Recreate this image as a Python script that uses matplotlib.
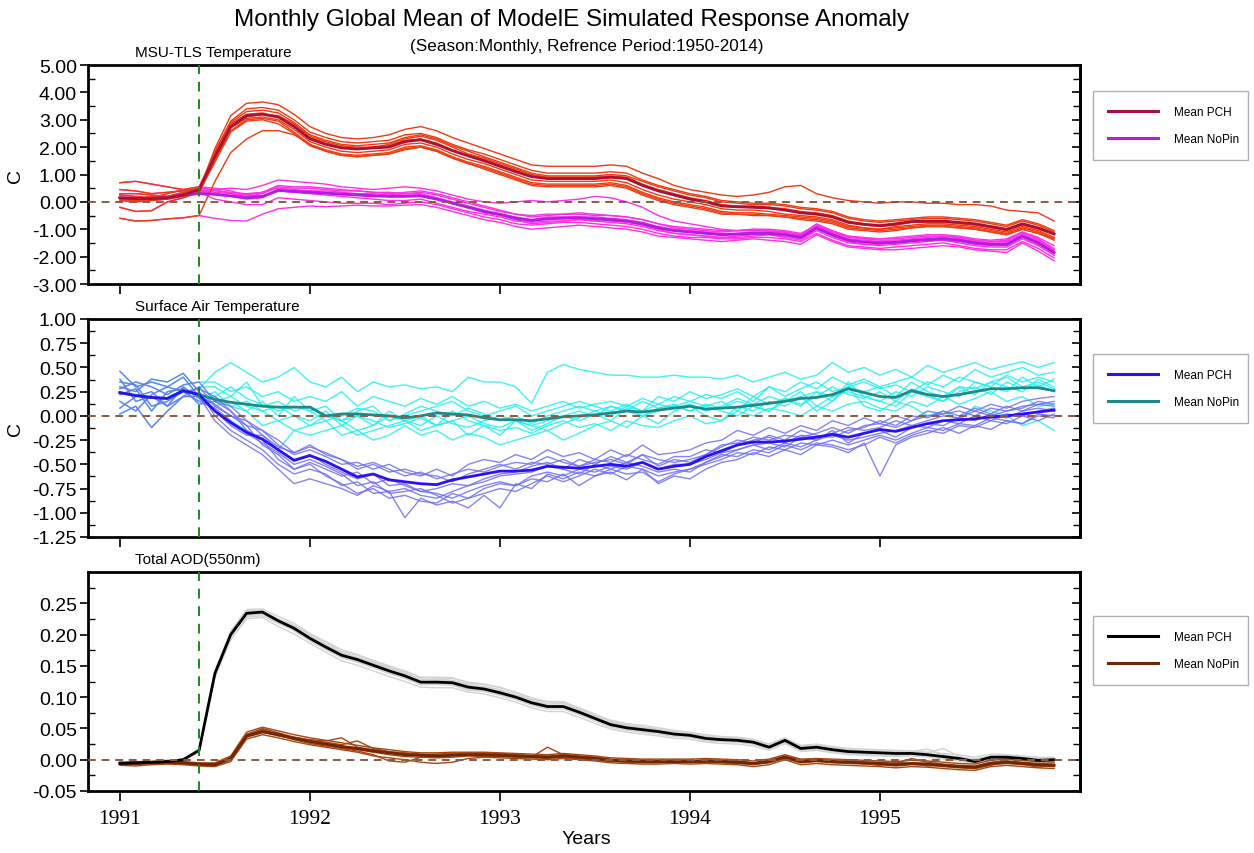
import numpy as np
import matplotlib
matplotlib.use('Agg')
import matplotlib.pyplot as plt
from matplotlib.lines import Line2D
from matplotlib.ticker import MultipleLocator, FormatStrFormatter

plt.rcParams['font.family'] = ['Liberation Sans', 'DejaVu Sans']

months = np.arange(60)
years = 1991 + months / 12.0
eruption = 1991 + 5 / 12.0

# ---- MSU-TLS temperature (C) ----
tls_pch_mean = [0.15, 0.12, 0.12, 0.15, 0.25, 0.45, 1.65, 2.75, 3.15, 3.2, 3.1, 2.75,
                2.3, 2.1, 1.97, 1.93, 1.97, 2.0, 2.2, 2.27, 2.1, 1.87, 1.68, 1.5,
                1.3, 1.1, 0.92, 0.85, 0.85, 0.85, 0.85, 0.9, 0.85, 0.6, 0.4, 0.25,
                0.1, 0.0, -0.15, -0.18, -0.2, -0.22, -0.3, -0.4, -0.45, -0.55, -0.75, -0.82,
                -0.87, -0.8, -0.72, -0.7, -0.7, -0.75, -0.8, -0.9, -1.0, -0.8, -0.95, -1.17]
tls_nopin_mean = [0.15, 0.12, 0.12, 0.15, 0.25, 0.3, 0.28, 0.22, 0.15, 0.2, 0.42, 0.38,
                  0.35, 0.32, 0.28, 0.25, 0.22, 0.2, 0.2, 0.22, 0.1, -0.05, -0.2, -0.35,
                  -0.45, -0.6, -0.68, -0.62, -0.6, -0.58, -0.62, -0.65, -0.7, -0.8, -0.95, -1.05,
                  -1.1, -1.15, -1.2, -1.18, -1.15, -1.15, -1.2, -1.3, -0.95, -1.2, -1.4, -1.47,
                  -1.5, -1.48, -1.42, -1.38, -1.35, -1.4, -1.5, -1.55, -1.55, -1.25, -1.5, -1.85]
tls_pch_members = [
    [0.70, 0.75, 0.65, 0.55, 0.45, 0.40, 1.95, 3.15, 3.6, 3.65, 3.55, 3.2,
     2.75, 2.5, 2.35, 2.3, 2.35, 2.45, 2.65, 2.75, 2.6, 2.35, 2.15, 1.95,
     1.75, 1.55, 1.35, 1.3, 1.3, 1.3, 1.3, 1.35, 1.3, 1.05, 0.85, 0.6,
     0.45, 0.35, 0.25, 0.2, 0.25, 0.35, 0.55, 0.6, 0.3, 0.15, 0.05, 0.0,
     -0.05, 0.0, 0.0, -0.05, -0.05, -0.1, -0.1, -0.15, -0.3, -0.35, -0.4, -0.7],
    [-0.60, -0.70, -0.68, -0.62, -0.58, -0.50, 0.75, 1.8, 2.3, 2.6, 2.6, 2.45,
     2.1, 1.85, 1.7, 1.65, 1.7, 1.75, 1.9, 2.0, 1.85, 1.6, 1.4, 1.2,
     1.0, 0.8, 0.6, 0.55, 0.55, 0.55, 0.55, 0.6, 0.5, 0.25, 0.05, -0.1,
     -0.2, -0.3, -0.45, -0.45, -0.5, -0.5, -0.55, -0.65, -0.7, -0.8, -1.0, -1.05,
     -1.1, -1.05, -0.95, -0.9, -0.9, -0.95, -1.0, -1.1, -1.2, -1.0, -1.15, -1.35],
    [-0.20, -0.35, -0.32, 0.00, 0.15, 0.35, 1.55, 2.6, 3.0, 3.05, 2.95, 2.55,
     2.1, 1.9, 1.75, 1.7, 1.75, 1.8, 2.0, 2.05, 1.9, 1.65, 1.45, 1.3,
     1.1, 0.9, 0.7, 0.65, 0.65, 0.65, 0.65, 0.7, 0.6, 0.35, 0.15, 0.0,
     -0.1, -0.2, -0.35, -0.4, -0.4, -0.45, -0.5, -0.55, -0.6, -0.7, -0.9, -0.95,
     -1.0, -0.95, -0.9, -0.85, -0.85, -0.9, -0.95, -1.05, -1.15, -0.95, -1.1, -1.3],
    [0.45, 0.40, 0.30, 0.35, 0.40, 0.50, 1.85, 2.95, 3.4, 3.45, 3.35, 3.0,
     2.55, 2.35, 2.2, 2.15, 2.2, 2.25, 2.45, 2.5, 2.35, 2.1, 1.9, 1.75,
     1.55, 1.35, 1.15, 1.05, 1.05, 1.05, 1.05, 1.1, 1.05, 0.8, 0.6, 0.45,
     0.3, 0.2, 0.05, 0.0, -0.05, -0.05, -0.1, -0.2, -0.25, -0.35, -0.55, -0.65,
     -0.7, -0.65, -0.6, -0.55, -0.55, -0.6, -0.65, -0.75, -0.85, -0.65, -0.8, -1.05],
    [0.30, 0.30, 0.25, 0.20, 0.35, 0.45, 1.7, 2.85, 3.2, 3.25, 3.1, 2.8,
     2.35, 2.15, 2.0, 1.95, 2.0, 2.05, 2.25, 2.3, 2.15, 1.9, 1.7, 1.55,
     1.35, 1.15, 0.95, 0.9, 0.9, 0.9, 0.9, 0.95, 0.9, 0.65, 0.45, 0.3,
     0.15, 0.05, -0.1, -0.15, -0.15, -0.2, -0.25, -0.35, -0.4, -0.5, -0.7, -0.8,
     -0.85, -0.8, -0.75, -0.7, -0.7, -0.75, -0.8, -0.9, -1.0, -0.8, -0.95, -1.15],
    [0.25, 0.20, 0.15, 0.30, 0.45, 0.55, 1.75, 2.7, 3.05, 3.1, 3.0, 2.65,
     2.2, 2.0, 1.85, 1.8, 1.85, 1.9, 2.1, 2.15, 2.0, 1.75, 1.55, 1.4,
     1.2, 1.0, 0.8, 0.75, 0.75, 0.75, 0.75, 0.8, 0.7, 0.45, 0.25, 0.1,
     0.0, -0.1, -0.25, -0.3, -0.3, -0.35, -0.45, -0.5, -0.55, -0.65, -0.85, -0.95,
     -1.0, -0.9, -0.85, -0.8, -0.8, -0.85, -0.9, -1.0, -1.1, -0.9, -1.05, -1.3],
    [0.10, 0.05, 0.10, 0.20, 0.30, 0.40, 1.8, 2.9, 3.3, 3.35, 3.25, 2.9,
     2.45, 2.25, 2.1, 2.05, 2.1, 2.15, 2.35, 2.45, 2.3, 2.05, 1.85, 1.65,
     1.45, 1.25, 1.05, 0.95, 0.95, 0.95, 0.95, 1.0, 0.95, 0.75, 0.55, 0.4,
     0.25, 0.15, 0.0, -0.05, -0.1, -0.1, -0.15, -0.25, -0.3, -0.4, -0.6, -0.7,
     -0.75, -0.7, -0.65, -0.6, -0.6, -0.65, -0.7, -0.8, -0.9, -0.7, -0.85, -1.1],
    [0.05, 0.00, 0.05, 0.10, 0.20, 0.35, 1.45, 2.55, 2.95, 3.0, 2.85, 2.5,
     2.05, 1.85, 1.7, 1.65, 1.7, 1.75, 1.95, 2.0, 1.85, 1.6, 1.4, 1.25,
     1.05, 0.85, 0.65, 0.6, 0.6, 0.6, 0.6, 0.65, 0.55, 0.3, 0.1, -0.05,
     -0.15, -0.25, -0.4, -0.45, -0.45, -0.5, -0.55, -0.6, -0.65, -0.75, -0.95, -1.0,
     -1.05, -1.0, -0.95, -0.9, -0.9, -0.95, -1.0, -1.1, -1.2, -1.0, -1.15, -1.4],
    [0.15, 0.10, 0.20, 0.15, 0.25, 0.45, 1.6, 2.7, 3.1, 3.2, 3.15, 2.85,
     2.4, 2.2, 2.05, 2.0, 2.0, 2.1, 2.3, 2.4, 2.25, 2.0, 1.75, 1.6,
     1.4, 1.2, 1.0, 0.9, 0.9, 0.9, 0.9, 0.9, 0.85, 0.6, 0.4, 0.25,
     0.1, 0.0, -0.15, -0.2, -0.2, -0.25, -0.3, -0.4, -0.45, -0.55, -0.75, -0.85,
     -0.9, -0.85, -0.75, -0.75, -0.75, -0.8, -0.85, -0.95, -1.05, -0.85, -1.0, -1.2],
]
tls_nopin_members = [
    [0.70, 0.75, 0.65, 0.55, 0.45, 0.40, 0.45, 0.50, 0.45, 0.60, 0.80, 0.75,
     0.70, 0.65, 0.55, 0.50, 0.45, 0.50, 0.55, 0.50, 0.40, 0.25, 0.10, 0.00,
     -0.05, 0.00, 0.05, 0.00, 0.05, 0.10, 0.20, 0.15, 0.00, -0.20, -0.50, -0.70,
     -0.80, -0.90, -1.00, -1.05, -1.00, -1.00, -1.05, -1.15, -0.85, -1.10, -1.25, -1.30,
     -1.35, -1.30, -1.25, -1.20, -1.20, -1.25, -1.35, -1.40, -1.35, -1.10, -1.30, -1.60],
    [-0.60, -0.70, -0.68, -0.62, -0.58, -0.50, -0.60, -0.68, -0.70, -0.45, -0.25, -0.20,
     -0.15, -0.18, -0.15, -0.12, -0.15, -0.15, -0.12, -0.10, -0.20, -0.35, -0.50, -0.65,
     -0.75, -0.90, -1.00, -0.95, -0.90, -0.85, -0.90, -0.95, -1.00, -1.10, -1.25, -1.30,
     -1.35, -1.40, -1.45, -1.40, -1.35, -1.40, -1.45, -1.55, -1.20, -1.45, -1.65, -1.70,
     -1.75, -1.75, -1.70, -1.65, -1.60, -1.65, -1.75, -1.80, -1.85, -1.50, -1.80, -2.15],
    [-0.20, -0.35, -0.32, 0.00, 0.15, 0.35, 0.30, 0.20, 0.10, 0.15, 0.40, 0.35,
     0.30, 0.25, 0.20, 0.15, 0.10, 0.05, 0.05, 0.10, -0.05, -0.20, -0.35, -0.45,
     -0.55, -0.70, -0.75, -0.70, -0.70, -0.65, -0.70, -0.75, -0.80, -0.90, -1.05, -1.15,
     -1.20, -1.25, -1.30, -1.30, -1.25, -1.20, -1.30, -1.40, -1.05, -1.30, -1.50, -1.55,
     -1.60, -1.55, -1.50, -1.45, -1.40, -1.50, -1.60, -1.65, -1.65, -1.35, -1.60, -1.95],
    [0.45, 0.40, 0.30, 0.35, 0.40, 0.50, 0.45, 0.30, 0.20, 0.30, 0.55, 0.50,
     0.50, 0.45, 0.40, 0.40, 0.35, 0.35, 0.30, 0.35, 0.25, 0.10, -0.05, -0.20,
     -0.35, -0.45, -0.55, -0.50, -0.45, -0.45, -0.50, -0.50, -0.55, -0.65, -0.80, -0.90,
     -0.95, -1.00, -1.05, -1.05, -1.00, -1.05, -1.10, -1.20, -0.80, -1.05, -1.25, -1.35,
     -1.35, -1.35, -1.30, -1.25, -1.25, -1.30, -1.40, -1.45, -1.40, -1.10, -1.35, -1.70],
    [0.30, 0.30, 0.25, 0.20, 0.35, 0.45, 0.40, 0.35, 0.30, 0.35, 0.50, 0.45,
     0.40, 0.40, 0.35, 0.30, 0.30, 0.25, 0.30, 0.30, 0.15, 0.00, -0.15, -0.30,
     -0.45, -0.60, -0.70, -0.60, -0.55, -0.55, -0.60, -0.65, -0.70, -0.80, -0.95, -1.05,
     -1.10, -1.15, -1.20, -1.15, -1.15, -1.10, -1.15, -1.25, -0.95, -1.20, -1.40, -1.45,
     -1.50, -1.45, -1.40, -1.35, -1.35, -1.40, -1.45, -1.55, -1.55, -1.25, -1.45, -1.80],
    [0.25, 0.20, 0.15, 0.30, 0.45, 0.55, 0.50, 0.40, 0.25, 0.20, 0.45, 0.40,
     0.35, 0.30, 0.30, 0.30, 0.25, 0.20, 0.20, 0.25, 0.15, -0.05, -0.20, -0.40,
     -0.50, -0.65, -0.80, -0.75, -0.70, -0.65, -0.70, -0.70, -0.75, -0.85, -1.00, -1.15,
     -1.20, -1.25, -1.30, -1.25, -1.20, -1.20, -1.25, -1.35, -1.00, -1.25, -1.45, -1.55,
     -1.55, -1.50, -1.45, -1.40, -1.40, -1.45, -1.55, -1.60, -1.60, -1.30, -1.55, -1.90],
    [0.10, 0.05, 0.10, 0.20, 0.30, 0.40, 0.35, 0.30, 0.25, 0.35, 0.60, 0.55,
     0.55, 0.50, 0.45, 0.40, 0.35, 0.30, 0.35, 0.40, 0.30, 0.15, 0.00, -0.15,
     -0.30, -0.45, -0.50, -0.45, -0.45, -0.40, -0.45, -0.50, -0.55, -0.65, -0.80, -0.95,
     -1.00, -1.05, -1.10, -1.05, -1.05, -1.05, -1.10, -1.20, -0.90, -1.10, -1.30, -1.35,
     -1.40, -1.40, -1.35, -1.30, -1.25, -1.30, -1.40, -1.45, -1.45, -1.15, -1.40, -1.75],
    [0.05, 0.00, 0.05, 0.10, 0.20, 0.35, 0.10, 0.00, -0.10, -0.10, 0.15, 0.10,
     0.05, 0.00, -0.05, -0.05, -0.05, -0.10, -0.05, 0.00, -0.10, -0.25, -0.40, -0.55,
     -0.65, -0.80, -0.85, -0.80, -0.75, -0.75, -0.80, -0.85, -0.90, -1.00, -1.15, -1.25,
     -1.30, -1.30, -1.35, -1.35, -1.30, -1.30, -1.35, -1.45, -1.15, -1.40, -1.60, -1.65,
     -1.70, -1.65, -1.60, -1.55, -1.50, -1.60, -1.70, -1.75, -1.75, -1.45, -1.70, -2.05],
    [0.15, 0.10, 0.20, 0.15, 0.25, 0.45, 0.25, 0.20, 0.15, 0.20, 0.40, 0.40,
     0.40, 0.35, 0.30, 0.25, 0.20, 0.25, 0.25, 0.25, 0.10, -0.05, -0.20, -0.35,
     -0.45, -0.55, -0.65, -0.55, -0.55, -0.55, -0.55, -0.60, -0.65, -0.75, -0.90, -1.00,
     -1.05, -1.10, -1.15, -1.15, -1.10, -1.10, -1.15, -1.25, -0.95, -1.15, -1.35, -1.40,
     -1.45, -1.45, -1.40, -1.35, -1.30, -1.35, -1.45, -1.50, -1.50, -1.20, -1.45, -1.80],
]

# ---- surface air temperature (C) ----
sat_pch_mean = [0.24, 0.21, 0.19, 0.18, 0.26, 0.22, 0.05, -0.07, -0.17, -0.24, -0.35, -0.46,
                -0.41, -0.47, -0.55, -0.63, -0.6, -0.66, -0.68, -0.7, -0.71, -0.66, -0.63, -0.6,
                -0.57, -0.57, -0.56, -0.52, -0.53, -0.54, -0.52, -0.5, -0.52, -0.48, -0.55, -0.52,
                -0.5, -0.42, -0.36, -0.3, -0.27, -0.27, -0.26, -0.24, -0.22, -0.19, -0.22, -0.18,
                -0.14, -0.16, -0.12, -0.08, -0.05, -0.04, -0.03, -0.01, 0.0, 0.02, 0.04, 0.06]
sat_nopin_mean = [0.24, 0.21, 0.19, 0.18, 0.26, 0.22, 0.17, 0.14, 0.12, 0.10, 0.09, 0.09,
                  0.09, 0.00, 0.02, 0.02, 0.01, 0.00, -0.02, 0.00, 0.03, 0.02, 0.01, -0.02,
                  -0.04, -0.04, -0.05, -0.03, -0.01, 0.00, 0.01, 0.03, 0.05, 0.04, 0.06, 0.08,
                  0.10, 0.07, 0.08, 0.09, 0.11, 0.13, 0.15, 0.18, 0.19, 0.22, 0.28, 0.24,
                  0.20, 0.19, 0.26, 0.22, 0.20, 0.22, 0.25, 0.28, 0.28, 0.29, 0.29, 0.26]
sat_pch_members = [
    [0.46, 0.30, 0.35, 0.30, 0.25, 0.28, 0.20, 0.05, -0.10, -0.30, -0.40, -0.55,
     -0.50, -0.62, -0.70, -0.80, -0.75, -0.85, -0.82, -0.88, -0.90, -0.80, -0.85, -0.75,
     -0.70, -0.72, -0.65, -0.68, -0.60, -0.72, -0.62, -0.58, -0.66, -0.55, -0.70, -0.62,
     -0.65, -0.55, -0.48, -0.45, -0.38, -0.42, -0.35, -0.40, -0.30, -0.32, -0.38, -0.28,
     -0.62, -0.30, -0.22, -0.18, -0.12, -0.18, -0.10, -0.14, -0.05, -0.08, 0.00, -0.02],
    [0.02, 0.10, -0.12, 0.05, 0.20, 0.30, 0.10, 0.00, -0.05, -0.15, -0.30, -0.40,
     -0.35, -0.42, -0.50, -0.48, -0.55, -0.50, -0.58, -0.62, -0.55, -0.62, -0.50, -0.45,
     -0.48, -0.40, -0.45, -0.35, -0.42, -0.38, -0.45, -0.35, -0.42, -0.30, -0.40, -0.38,
     -0.35, -0.28, -0.25, -0.15, -0.20, -0.12, -0.18, -0.10, -0.15, -0.05, -0.10, -0.02,
     -0.08, 0.00, -0.05, 0.05, 0.02, 0.10, 0.05, 0.12, 0.08, 0.15, 0.18, 0.20],
    [0.30, 0.25, 0.38, 0.35, 0.44, 0.25, 0.00, -0.15, -0.25, -0.35, -0.50, -0.60,
     -0.55, -0.60, -0.72, -0.68, -0.80, -0.78, -1.05, -0.85, -0.92, -0.88, -0.95, -0.82,
     -0.95, -0.70, -0.75, -0.60, -0.65, -0.58, -0.62, -0.55, -0.60, -0.58, -0.68, -0.60,
     -0.55, -0.48, -0.40, -0.42, -0.35, -0.38, -0.30, -0.35, -0.28, -0.30, -0.35, -0.30,
     -0.22, -0.28, -0.20, -0.15, -0.18, -0.10, -0.12, -0.05, -0.08, 0.00, -0.05, 0.02],
    [0.38, 0.15, 0.20, 0.10, 0.30, 0.18, 0.05, -0.10, -0.20, -0.20, -0.32, -0.38,
     -0.30, -0.40, -0.45, -0.55, -0.50, -0.58, -0.55, -0.60, -0.62, -0.68, -0.60, -0.55,
     -0.50, -0.55, -0.48, -0.50, -0.45, -0.52, -0.48, -0.45, -0.50, -0.40, -0.45, -0.48,
     -0.45, -0.40, -0.32, -0.25, -0.28, -0.20, -0.25, -0.15, -0.20, -0.22, -0.15, -0.12,
     -0.05, -0.10, 0.00, -0.02, 0.05, 0.00, 0.08, 0.02, 0.10, 0.05, 0.12, 0.10],
    [0.22, 0.28, 0.05, 0.25, 0.28, 0.12, 0.15, 0.05, -0.15, -0.25, -0.45, -0.55,
     -0.48, -0.55, -0.62, -0.58, -0.70, -0.65, -0.72, -0.78, -0.80, -0.85, -0.78, -0.72,
     -0.68, -0.72, -0.62, -0.58, -0.62, -0.55, -0.58, -0.52, -0.55, -0.48, -0.55, -0.50,
     -0.50, -0.45, -0.38, -0.35, -0.30, -0.28, -0.32, -0.22, -0.25, -0.15, -0.28, -0.18,
     -0.15, -0.22, -0.12, -0.08, -0.10, -0.02, -0.05, 0.02, -0.02, 0.05, 0.08, 0.05],
    [0.08, 0.20, 0.25, 0.10, 0.20, 0.20, -0.05, -0.20, -0.30, -0.40, -0.55, -0.70,
     -0.65, -0.70, -0.75, -0.82, -0.72, -0.78, -0.75, -0.82, -0.85, -0.78, -0.72, -0.68,
     -0.62, -0.60, -0.58, -0.52, -0.55, -0.60, -0.50, -0.55, -0.48, -0.52, -0.58, -0.55,
     -0.58, -0.48, -0.42, -0.35, -0.30, -0.35, -0.28, -0.32, -0.25, -0.20, -0.25, -0.22,
     -0.18, -0.15, -0.10, -0.12, -0.05, -0.08, 0.00, -0.05, 0.02, 0.00, 0.05, 0.08],
    [0.28, 0.35, 0.30, 0.22, 0.32, 0.35, 0.15, 0.10, -0.05, -0.20, -0.35, -0.45,
     -0.40, -0.50, -0.58, -0.65, -0.60, -0.72, -0.70, -0.78, -0.75, -0.70, -0.72, -0.65,
     -0.60, -0.58, -0.52, -0.48, -0.55, -0.45, -0.50, -0.42, -0.48, -0.40, -0.52, -0.45,
     -0.48, -0.40, -0.30, -0.28, -0.22, -0.25, -0.20, -0.22, -0.18, -0.12, -0.18, -0.10,
     -0.08, -0.12, -0.05, 0.00, 0.02, 0.05, 0.00, 0.08, 0.05, 0.10, 0.12, 0.15],
    [0.35, 0.32, 0.10, 0.15, 0.25, 0.15, 0.08, -0.05, -0.18, -0.28, -0.38, -0.50,
     -0.45, -0.52, -0.60, -0.72, -0.68, -0.80, -0.78, -0.75, -0.82, -0.90, -0.85, -0.80,
     -0.75, -0.78, -0.70, -0.62, -0.68, -0.62, -0.55, -0.60, -0.52, -0.55, -0.62, -0.58,
     -0.55, -0.50, -0.45, -0.38, -0.40, -0.32, -0.35, -0.28, -0.30, -0.25, -0.30, -0.25,
     -0.20, -0.25, -0.18, -0.12, -0.15, -0.08, -0.10, -0.02, -0.05, -0.08, 0.02, 0.00],
    [0.15, 0.05, 0.22, 0.30, 0.40, 0.20, 0.12, 0.00, -0.10, -0.15, -0.25, -0.38,
     -0.32, -0.38, -0.45, -0.52, -0.48, -0.55, -0.62, -0.58, -0.65, -0.60, -0.55, -0.58,
     -0.52, -0.48, -0.50, -0.42, -0.48, -0.52, -0.45, -0.48, -0.40, -0.45, -0.50, -0.42,
     -0.42, -0.35, -0.38, -0.30, -0.25, -0.22, -0.28, -0.20, -0.22, -0.18, -0.12, -0.15,
     -0.12, -0.05, -0.10, -0.05, 0.00, -0.02, 0.05, 0.00, 0.05, 0.08, 0.15, 0.12],
]
sat_nopin_members = [
    [0.46, 0.30, 0.35, 0.30, 0.25, 0.28, 0.45, 0.55, 0.45, 0.35, 0.40, 0.50,
     0.35, 0.30, 0.40, 0.25, 0.35, 0.30, 0.32, 0.28, 0.30, 0.25, 0.40, 0.35,
     0.35, 0.30, 0.13, 0.45, 0.53, 0.48, 0.45, 0.42, 0.42, 0.40, 0.40, 0.42,
     0.40, 0.40, 0.38, 0.42, 0.35, 0.40, 0.45, 0.38, 0.42, 0.55, 0.45, 0.50,
     0.42, 0.48, 0.40, 0.52, 0.45, 0.50, 0.55, 0.48, 0.52, 0.56, 0.50, 0.55],
    [0.02, 0.10, -0.12, 0.05, 0.20, 0.30, 0.30, 0.20, 0.35, 0.10, 0.15, 0.05,
     0.10, 0.00, -0.05, 0.05, 0.10, -0.05, 0.00, 0.05, 0.10, 0.15, 0.05, 0.00,
     0.05, 0.10, 0.00, 0.05, 0.10, 0.15, 0.10, 0.05, 0.12, 0.05, 0.20, 0.15,
     0.25, 0.18, 0.22, 0.28, 0.20, 0.30, 0.25, 0.35, 0.28, 0.40, 0.32, 0.38,
     0.30, 0.35, 0.40, 0.32, 0.42, 0.35, 0.48, 0.40, 0.45, 0.50, 0.42, 0.45],
    [0.30, 0.25, 0.38, 0.35, 0.44, 0.25, 0.10, 0.15, 0.05, -0.10, -0.05, -0.15,
     -0.20, -0.15, -0.10, -0.20, -0.15, -0.10, -0.05, -0.15, -0.10, -0.05, -0.20, -0.10,
     -0.15, -0.12, -0.18, -0.10, -0.05, -0.12, -0.08, -0.15, -0.05, -0.10, -0.12, -0.05,
     0.00, -0.08, -0.05, 0.05, 0.00, 0.08, 0.05, 0.00, 0.10, 0.05, 0.12, 0.15,
     0.08, 0.05, 0.15, 0.10, 0.20, 0.12, 0.18, 0.25, 0.15, 0.20, 0.10, 0.12],
    [0.38, 0.15, 0.20, 0.10, 0.30, 0.18, 0.25, 0.10, 0.05, 0.15, 0.00, 0.20,
     0.05, 0.10, -0.05, 0.00, -0.10, 0.05, -0.05, 0.00, -0.10, 0.05, -0.05, -0.10,
     -0.20, -0.05, -0.10, -0.15, -0.08, -0.02, 0.05, 0.10, 0.05, 0.15, 0.08, 0.12,
     0.05, 0.10, 0.15, 0.05, 0.20, 0.12, 0.18, 0.10, 0.25, 0.15, 0.35, 0.20,
     0.15, 0.10, 0.25, 0.20, 0.15, 0.30, 0.22, 0.35, 0.30, 0.25, 0.38, 0.30],
    [0.22, 0.28, 0.05, 0.25, 0.28, 0.12, 0.15, 0.20, 0.10, 0.05, -0.05, 0.00,
     -0.10, -0.05, -0.20, -0.15, -0.25, -0.20, -0.10, -0.20, -0.15, -0.25, -0.18, -0.22,
     -0.30, -0.25, -0.20, -0.15, -0.25, -0.18, -0.10, -0.05, -0.12, 0.00, -0.08, 0.05,
     0.10, 0.00, -0.05, 0.10, 0.05, 0.15, 0.10, 0.20, 0.05, 0.15, 0.30, 0.10,
     0.05, 0.15, 0.10, 0.00, 0.05, -0.05, 0.10, 0.05, 0.00, -0.10, -0.05, -0.15],
    [0.08, 0.20, 0.25, 0.10, 0.20, 0.20, 0.05, -0.05, -0.15, -0.25, -0.35, -0.15,
     -0.10, 0.00, -0.05, -0.15, -0.10, 0.00, -0.05, -0.10, 0.00, -0.08, -0.12, -0.05,
     0.00, -0.05, -0.10, -0.05, 0.00, 0.05, 0.00, 0.10, 0.05, 0.00, 0.08, 0.10,
     0.15, 0.10, 0.05, 0.00, 0.10, 0.05, 0.15, 0.20, 0.25, 0.20, 0.30, 0.25,
     0.30, 0.20, 0.35, 0.25, 0.20, 0.30, 0.28, 0.35, 0.40, 0.30, 0.35, 0.28],
    [0.28, 0.35, 0.30, 0.22, 0.32, 0.35, 0.35, 0.25, 0.30, 0.20, 0.25, 0.15,
     0.20, 0.15, 0.25, 0.10, 0.20, 0.15, 0.10, 0.18, 0.12, 0.20, 0.10, 0.15,
     0.08, 0.12, 0.05, 0.10, 0.15, 0.08, 0.12, 0.15, 0.10, 0.18, 0.12, 0.20,
     0.15, 0.22, 0.18, 0.25, 0.15, 0.30, 0.20, 0.28, 0.35, 0.25, 0.30, 0.35,
     0.28, 0.32, 0.25, 0.35, 0.30, 0.40, 0.35, 0.30, 0.42, 0.35, 0.40, 0.35],
    [0.35, 0.32, 0.10, 0.15, 0.25, 0.15, 0.20, 0.10, 0.15, 0.05, 0.10, 0.00,
     -0.05, 0.05, -0.10, 0.00, -0.05, -0.12, -0.08, -0.02, -0.10, -0.05, 0.00, -0.08,
     -0.12, -0.05, -0.15, -0.08, 0.00, -0.05, 0.02, -0.05, 0.08, 0.00, 0.05, 0.10,
     0.05, 0.12, 0.08, 0.15, 0.10, 0.05, 0.18, 0.12, 0.20, 0.30, 0.22, 0.18,
     0.25, 0.15, 0.28, 0.22, 0.15, 0.25, 0.30, 0.22, 0.35, 0.28, 0.32, 0.25],
    [0.15, 0.05, 0.22, 0.30, 0.40, 0.20, 0.20, 0.30, 0.18, 0.12, 0.05, 0.10,
     0.05, -0.05, 0.00, 0.08, 0.05, -0.05, 0.02, 0.10, 0.05, 0.00, 0.08, 0.02,
     -0.05, 0.00, -0.08, 0.00, 0.05, 0.10, 0.05, 0.00, 0.10, 0.05, 0.12, 0.08,
     0.12, 0.05, 0.10, 0.18, 0.12, 0.20, 0.15, 0.25, 0.10, 0.20, 0.25, 0.20,
     0.15, 0.25, 0.20, 0.30, 0.25, 0.20, 0.35, 0.30, 0.25, 0.40, 0.30, 0.38],
]

# ---- total AOD at 550nm ----
aod_pch_mean = [-0.006, -0.005, -0.004, -0.003, 0.000, 0.015, 0.138, 0.200, 0.234, 0.236, 0.222, 0.210,
                0.194, 0.180, 0.167, 0.160, 0.151, 0.142, 0.134, 0.124, 0.124, 0.123, 0.116, 0.113,
                0.107, 0.100, 0.091, 0.085, 0.085, 0.076, 0.066, 0.056, 0.051, 0.048, 0.045, 0.041,
                0.039, 0.034, 0.032, 0.031, 0.028, 0.020, 0.031, 0.018, 0.020, 0.016, 0.013, 0.012,
                0.011, 0.010, 0.010, 0.008, 0.005, 0.002, -0.003, 0.004, 0.004, 0.002, -0.001, 0.000]
aod_nopin_mean = [-0.006, -0.006, -0.005, -0.004, -0.005, -0.007, -0.008, 0.002, 0.038, 0.045, 0.040, 0.034,
                  0.029, 0.025, 0.021, 0.018, 0.014, 0.011, 0.008, 0.007, 0.006, 0.007, 0.008, 0.008,
                  0.007, 0.006, 0.005, 0.004, 0.006, 0.004, 0.002, -0.001, -0.002, -0.003, -0.003, -0.003,
                  -0.003, -0.002, -0.003, -0.004, -0.006, -0.003, 0.004, -0.003, -0.001, -0.003, -0.004, -0.005,
                  -0.006, -0.008, -0.006, -0.007, -0.009, -0.011, -0.012, -0.006, -0.004, -0.006, -0.008, -0.009]
aod_pch_members = [
    [-0.008, -0.006, -0.003, -0.002, 0.001, 0.017, 0.142, 0.205, 0.238, 0.238, 0.225, 0.214,
     0.198, 0.184, 0.171, 0.163, 0.155, 0.147, 0.139, 0.128, 0.129, 0.127, 0.121, 0.117,
     0.112, 0.104, 0.095, 0.089, 0.090, 0.080, 0.070, 0.060, 0.055, 0.052, 0.049, 0.045,
     0.042, 0.038, 0.035, 0.034, 0.031, 0.024, 0.034, 0.022, 0.023, 0.019, 0.016, 0.015,
     0.014, 0.013, 0.012, 0.011, 0.018, 0.005, 0.001, 0.006, 0.007, 0.004, 0.002, 0.003],
    [-0.004, -0.006, -0.005, -0.003, 0.000, 0.013, 0.134, 0.196, 0.230, 0.233, 0.219, 0.206,
     0.190, 0.176, 0.163, 0.156, 0.147, 0.138, 0.130, 0.120, 0.120, 0.119, 0.111, 0.109,
     0.103, 0.096, 0.087, 0.081, 0.081, 0.072, 0.062, 0.052, 0.047, 0.044, 0.041, 0.037,
     0.036, 0.030, 0.029, 0.028, 0.025, 0.017, 0.028, 0.015, 0.017, 0.013, 0.010, 0.009,
     0.008, 0.007, 0.008, 0.006, 0.003, 0.000, -0.005, 0.002, 0.002, 0.000, -0.003, -0.002],
    [-0.006, -0.004, -0.004, -0.002, 0.002, 0.016, 0.140, 0.198, 0.228, 0.230, 0.218, 0.208,
     0.196, 0.183, 0.170, 0.164, 0.154, 0.146, 0.138, 0.129, 0.127, 0.126, 0.119, 0.115,
     0.110, 0.103, 0.094, 0.087, 0.087, 0.078, 0.068, 0.058, 0.054, 0.050, 0.047, 0.043,
     0.041, 0.036, 0.033, 0.032, 0.030, 0.022, 0.032, 0.020, 0.022, 0.018, 0.015, 0.013,
     0.012, 0.011, 0.011, 0.009, 0.006, 0.003, -0.002, 0.006, 0.005, 0.003, 0.000, 0.001],
    [-0.007, -0.005, -0.004, -0.004, -0.001, 0.014, 0.136, 0.201, 0.236, 0.237, 0.224, 0.211,
     0.193, 0.178, 0.164, 0.157, 0.148, 0.139, 0.131, 0.121, 0.122, 0.120, 0.113, 0.110,
     0.104, 0.098, 0.089, 0.083, 0.083, 0.074, 0.064, 0.054, 0.049, 0.046, 0.043, 0.039,
     0.037, 0.032, 0.030, 0.029, 0.026, 0.018, 0.029, 0.016, 0.018, 0.014, 0.011, 0.010,
     0.009, 0.008, 0.009, 0.007, 0.004, 0.001, -0.004, 0.003, 0.003, 0.001, -0.002, -0.001],
    [-0.005, -0.004, -0.003, -0.003, 0.000, 0.015, 0.139, 0.203, 0.235, 0.236, 0.223, 0.211,
     0.195, 0.181, 0.168, 0.161, 0.152, 0.143, 0.135, 0.125, 0.125, 0.124, 0.117, 0.114,
     0.108, 0.101, 0.092, 0.086, 0.086, 0.077, 0.067, 0.057, 0.052, 0.049, 0.046, 0.042,
     0.040, 0.035, 0.033, 0.032, 0.029, 0.021, 0.030, 0.019, 0.021, 0.017, 0.014, 0.013,
     0.012, 0.011, 0.011, 0.009, 0.006, 0.003, -0.002, 0.005, 0.005, 0.003, 0.000, 0.001],
    [-0.006, -0.004, -0.005, -0.003, 0.001, 0.016, 0.140, 0.206, 0.240, 0.241, 0.229, 0.218,
     0.202, 0.189, 0.176, 0.168, 0.159, 0.150, 0.142, 0.132, 0.131, 0.130, 0.124, 0.121,
     0.115, 0.108, 0.099, 0.093, 0.093, 0.083, 0.073, 0.063, 0.058, 0.055, 0.051, 0.047,
     0.044, 0.040, 0.037, 0.036, 0.033, 0.025, 0.035, 0.023, 0.025, 0.021, 0.018, 0.017,
     0.016, 0.015, 0.014, 0.012, 0.010, 0.008, 0.004, 0.009, 0.008, 0.006, 0.004, 0.004],
    [-0.007, -0.006, -0.004, -0.004, -0.001, 0.012, 0.131, 0.192, 0.225, 0.227, 0.213, 0.201,
     0.186, 0.172, 0.158, 0.151, 0.142, 0.133, 0.125, 0.116, 0.115, 0.115, 0.108, 0.105,
     0.099, 0.092, 0.083, 0.077, 0.077, 0.068, 0.058, 0.049, 0.044, 0.041, 0.038, 0.034,
     0.033, 0.028, 0.026, 0.025, 0.022, 0.015, 0.026, 0.013, 0.015, 0.011, 0.008, 0.007,
     0.006, 0.005, 0.006, 0.004, 0.001, -0.002, -0.006, 0.000, 0.000, -0.002, -0.004, -0.004],
    [-0.005, -0.005, -0.003, -0.002, 0.000, 0.016, 0.137, 0.199, 0.231, 0.234, 0.224, 0.215,
     0.200, 0.187, 0.173, 0.167, 0.157, 0.149, 0.141, 0.131, 0.132, 0.131, 0.123, 0.120,
     0.116, 0.107, 0.097, 0.092, 0.091, 0.082, 0.071, 0.061, 0.056, 0.052, 0.048, 0.044,
     0.042, 0.037, 0.034, 0.034, 0.031, 0.023, 0.033, 0.021, 0.022, 0.018, 0.016, 0.014,
     0.013, 0.012, 0.013, 0.017, 0.008, 0.004, 0.000, 0.005, 0.006, 0.004, 0.001, 0.002],
]
aod_nopin_members = [
    [-0.008, -0.004, -0.006, -0.002, -0.006, -0.009, -0.010, 0.000, 0.036, 0.043, 0.041, 0.036,
     0.032, 0.030, 0.035, 0.020, 0.016, 0.012, 0.010, 0.008, 0.009, 0.010, 0.011, 0.010,
     0.009, 0.008, 0.006, 0.005, 0.009, 0.006, 0.004, 0.001, 0.000, -0.001, -0.001, -0.002,
     -0.002, 0.000, -0.001, -0.002, -0.005, -0.001, 0.006, -0.001, 0.001, -0.001, -0.002, -0.004,
     -0.004, -0.006, 0.002, -0.004, -0.007, -0.009, -0.010, -0.004, -0.002, -0.004, -0.006, -0.007],
    [-0.004, -0.007, -0.004, -0.005, -0.004, -0.006, -0.007, 0.004, 0.041, 0.048, 0.042, 0.035,
     0.029, 0.024, 0.019, 0.016, 0.012, 0.008, 0.005, 0.004, 0.003, 0.004, 0.006, 0.005,
     0.005, 0.004, 0.003, 0.002, 0.004, 0.001, 0.000, -0.003, -0.004, -0.005, -0.005, -0.004,
     -0.005, -0.004, -0.005, -0.006, -0.008, -0.005, 0.002, -0.005, -0.003, -0.005, -0.006, -0.007,
     -0.008, -0.010, -0.008, -0.009, -0.011, -0.013, -0.014, -0.008, -0.006, -0.008, -0.010, -0.011],
    [-0.007, -0.006, -0.005, -0.004, -0.006, -0.008, -0.009, 0.001, 0.037, 0.046, 0.039, 0.032,
     0.026, 0.022, 0.018, 0.014, 0.008, -0.002, -0.004, 0.004, 0.006, 0.008, 0.009, 0.009,
     0.008, 0.007, 0.004, 0.020, 0.008, 0.005, 0.001, -0.002, -0.003, -0.004, -0.003, -0.003,
     -0.003, -0.002, -0.002, -0.003, -0.005, -0.002, 0.005, -0.002, 0.000, -0.002, -0.003, -0.004,
     -0.005, -0.007, -0.005, -0.006, -0.008, -0.010, -0.011, -0.005, -0.003, -0.005, -0.007, -0.008],
    [-0.005, -0.006, -0.004, -0.005, -0.004, -0.006, -0.008, 0.003, 0.039, 0.044, 0.038, 0.034,
     0.030, 0.026, 0.022, 0.019, 0.015, 0.012, 0.009, 0.008, 0.007, 0.008, 0.008, 0.009,
     0.007, 0.006, 0.006, 0.003, 0.006, 0.005, 0.003, 0.000, -0.001, -0.002, -0.003, -0.003,
     -0.003, -0.002, -0.003, -0.004, -0.006, -0.003, 0.004, -0.003, -0.001, -0.003, -0.004, -0.005,
     -0.006, -0.008, -0.006, -0.007, -0.009, -0.011, -0.012, -0.006, -0.004, -0.006, -0.008, -0.009],
    [-0.006, -0.005, -0.006, -0.004, -0.005, -0.007, -0.007, 0.002, 0.038, 0.046, 0.040, 0.034,
     0.029, 0.024, 0.021, 0.018, 0.015, 0.012, 0.009, 0.007, 0.006, 0.007, 0.007, 0.008,
     0.007, 0.006, 0.005, 0.004, 0.006, 0.004, 0.002, -0.001, -0.002, -0.003, -0.003, -0.003,
     -0.002, -0.002, -0.003, -0.004, -0.006, -0.004, 0.004, -0.004, -0.002, -0.003, -0.005, -0.006,
     -0.007, -0.009, -0.007, -0.008, -0.010, -0.012, -0.013, -0.007, -0.004, -0.006, -0.009, -0.010],
    [-0.004, -0.003, -0.003, -0.001, -0.003, -0.005, -0.005, 0.006, 0.044, 0.052, 0.046, 0.040,
     0.035, 0.031, 0.027, 0.023, 0.019, 0.016, 0.013, 0.011, 0.011, 0.012, 0.012, 0.012,
     0.011, 0.010, 0.009, 0.008, 0.010, 0.008, 0.006, 0.003, 0.002, 0.001, 0.001, 0.001,
     0.001, 0.002, 0.001, 0.000, -0.002, 0.001, 0.008, 0.001, 0.002, 0.001, 0.000, -0.001,
     -0.002, -0.003, -0.001, -0.002, -0.004, -0.006, -0.007, -0.001, 0.001, -0.001, -0.003, -0.004],
    [-0.009, -0.010, -0.008, -0.007, -0.008, -0.010, -0.011, -0.003, 0.033, 0.040, 0.035, 0.029,
     0.024, 0.020, 0.016, 0.012, 0.006, 0.003, 0.000, -0.004, -0.006, -0.004, 0.002, 0.004,
     0.003, 0.002, 0.001, 0.000, 0.002, 0.000, -0.002, -0.005, -0.006, -0.007, -0.007, -0.006,
     -0.007, -0.006, -0.007, -0.008, -0.011, -0.008, 0.000, -0.008, -0.006, -0.008, -0.009, -0.010,
     -0.011, -0.013, -0.011, -0.012, -0.014, -0.016, -0.017, -0.011, -0.009, -0.011, -0.013, -0.014],
    [-0.006, -0.008, -0.005, -0.006, -0.007, -0.008, -0.009, 0.000, 0.040, 0.050, 0.043, 0.036,
     0.031, 0.028, 0.024, 0.030, 0.018, 0.013, 0.011, 0.009, 0.008, 0.009, 0.010, 0.011,
     0.010, 0.008, 0.007, 0.006, 0.005, 0.003, 0.004, 0.000, -0.002, -0.001, -0.002, 0.000,
     -0.001, -0.003, -0.002, -0.004, -0.007, -0.004, 0.003, -0.004, -0.002, -0.004, -0.005, -0.006,
     -0.009, -0.004, -0.006, -0.010, -0.008, -0.012, -0.014, -0.009, -0.002, -0.007, -0.012, -0.008],
]

year_ticks = [1991, 1992, 1993, 1994, 1995]

panels = [
    dict(title='MSU-TLS Temperature', ylabel='C', ylim=(-3.0, 5.0), minor=0.5,
         yticks=np.arange(-3.0, 5.01, 1.0),
         pch=tls_pch_members, nopin=tls_nopin_members,
         pch_mean=tls_pch_mean, nopin_mean=tls_nopin_mean,
         pch_col='#ee3b10', nopin_col='#ff2ee8', pch_mcol='#a8123a', nopin_mcol='#b01ee0',
         member_alpha=1.0, first='nopin'),
    dict(title='Surface Air Temperature', ylabel='C', ylim=(-1.25, 1.0), minor=0.125,
         yticks=np.arange(-1.25, 1.01, 0.25),
         pch=sat_pch_members, nopin=sat_nopin_members,
         pch_mean=sat_pch_mean, nopin_mean=sat_nopin_mean,
         pch_col='#6f6ff0', nopin_col='#1ef0f0', pch_mcol='#2a10f5', nopin_mcol='#1f8a88',
         member_alpha=0.85, first='nopin'),
    dict(title='Total AOD(550nm)', ylabel='', ylim=(-0.05, 0.30), minor=0.025,
         yticks=np.arange(-0.05, 0.251, 0.05),
         pch=aod_pch_members, nopin=aod_nopin_members,
         pch_mean=aod_pch_mean, nopin_mean=aod_nopin_mean,
         pch_col='#d2d2d2', nopin_col='#a8460f', pch_mcol='#000000', nopin_mcol='#6e2606',
         member_alpha=1.0, first='pch'),
]

fig = plt.figure(figsize=(12.54, 8.54), dpi=100)
fig.text(0.456, 0.976, 'Monthly Global Mean of ModelE Simulated Response Anomaly',
         ha='center', va='center', fontsize=17.5)
fig.text(0.468, 0.945, '(Season:Monthly, Refrence Period:1950-2014)',
         ha='center', va='center', fontsize=12.3)

tops = [66, 320, 573]
bottoms = [285, 538, 792]
legend_tops = [92, 355, 617]

for i, p in enumerate(panels):
    ax = fig.add_axes([88 / 1254, 1 - bottoms[i] / 854, 992 / 1254, (bottoms[i] - tops[i]) / 854])

    # ensemble members first, then the two means on top
    keys = ['nopin', 'pch'] if p['first'] == 'nopin' else ['pch', 'nopin']
    for key in keys:
        for run in p[key]:
            ax.plot(years, run, color=p[key + '_col'], lw=1.0, alpha=p['member_alpha'], zorder=2)

    ax.plot(years, p['nopin_mean'], color=p['nopin_mcol'], lw=2.0, zorder=4)
    ax.plot(years, p['pch_mean'], color=p['pch_mcol'], lw=2.0, zorder=4)

    ax.axhline(0, color='#8a5a44', lw=1.4, ls=(0, (4, 3)), zorder=5)
    ax.axvline(eruption, color='#1a8a1a', lw=1.4, ls=(0, (5, 4)), zorder=5)

    ax.set_xlim(1990.832, 1996.053)
    ax.set_ylim(*p['ylim'])
    ax.set_xticks(year_ticks)
    ax.set_yticks(p['yticks'])
    ax.yaxis.set_minor_locator(MultipleLocator(p['minor']))
    ax.yaxis.set_major_formatter(FormatStrFormatter('%.2f'))
    ax.tick_params(axis='x', which='major', direction='out', length=7, width=1.2,
                   top=False, labelbottom=(i == 2), labelsize=15.5, pad=6)
    ax.tick_params(axis='y', which='major', direction='out', length=6, width=1.2,
                   right=False, labelsize=14, pad=2)
    ax.tick_params(axis='y', which='minor', direction='in', length=5, width=1.0, right=False)
    if i == 2:
        for lab in ax.get_xticklabels():
            lab.set_fontfamily('Liberation Serif')
    for sp in ax.spines.values():
        sp.set_linewidth(2.0)

    sec = ax.secondary_yaxis('right')
    sec.set_yticks(p['yticks'])
    sec.yaxis.set_minor_locator(MultipleLocator(p['minor']))
    sec.tick_params(which='major', direction='in', length=6, width=1.2, labelright=False)
    sec.tick_params(which='minor', direction='in', length=5, width=1.0)
    sec.spines['right'].set_linewidth(2.0)

    if p['ylabel']:
        ax.set_ylabel(p['ylabel'], fontsize=14, labelpad=6)
    fig.text(135 / 1254, 1 - (tops[i] - 13) / 854, p['title'], ha='left', va='center', fontsize=11)

    handles = [Line2D([], [], color=p['pch_mcol'], lw=2.2),
               Line2D([], [], color=p['nopin_mcol'], lw=2.2)]
    ly = (bottoms[i] - legend_tops[i]) / (bottoms[i] - tops[i])
    leg = ax.legend(handles, ['Mean PCH', 'Mean NoPin'], loc='upper left',
                    bbox_to_anchor=(1.013, ly, 0.156, 0.0), mode='expand',
                    fontsize=8.5, frameon=True, fancybox=False, framealpha=1,
                    edgecolor='#b0b0b0', borderpad=1.3, labelspacing=1.25,
                    handlelength=4.2, handletextpad=1.4, borderaxespad=0)
    leg.get_frame().set_linewidth(1.0)

fig.text(586 / 1254, 1 - 840 / 854, 'Years', ha='center', va='center', fontsize=14)

fig.savefig('out.png', dpi=100)
